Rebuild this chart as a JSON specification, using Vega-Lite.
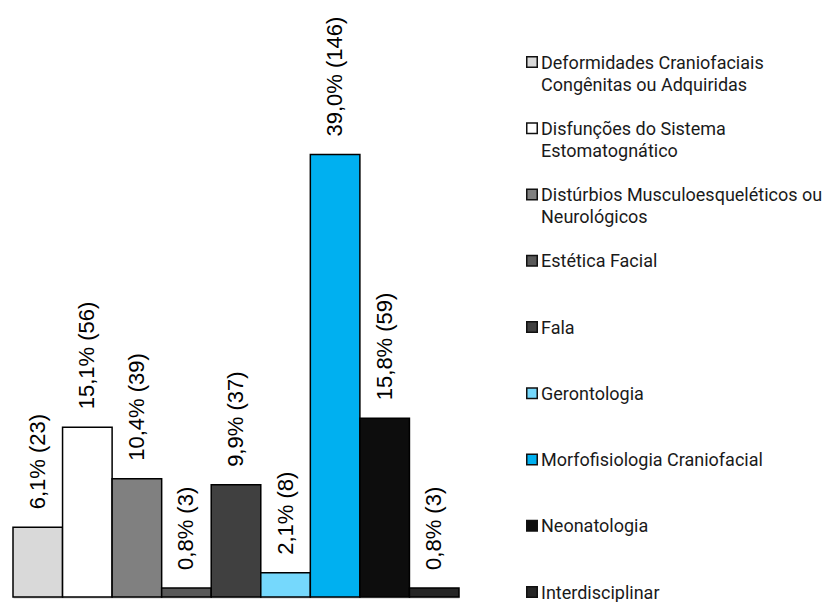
{
  "$schema": "https://vega.github.io/schema/vega-lite/v6.json",
  "padding": {"left": 12, "top": 0, "right": 0, "bottom": 0},
  "background": "white",
  "config": {"view": {"stroke": null}, "text": {"lineBreak": "\n"}},
  "datasets": {
    "areas": [
      {"area": "Deformidades Craniofaciais Congênitas ou Adquiridas", "legend": "Deformidades Craniofaciais\nCongênitas ou Adquiridas", "pct": 6.1, "n": 23},
      {"area": "Disfunções do Sistema Estomatognático", "legend": "Disfunções do Sistema\nEstomatognático", "pct": 15.1, "n": 56},
      {"area": "Distúrbios Musculoesqueléticos ou Neurológicos", "legend": "Distúrbios Musculoesqueléticos ou\nNeurológicos", "pct": 10.4, "n": 39},
      {"area": "Estética Facial", "legend": "Estética Facial", "pct": 0.8, "n": 3},
      {"area": "Fala", "legend": "Fala", "pct": 9.9, "n": 37},
      {"area": "Gerontologia", "legend": "Gerontologia", "pct": 2.1, "n": 8},
      {"area": "Morfofisiologia Craniofacial", "legend": "Morfofisiologia Craniofacial", "pct": 39.0, "n": 146},
      {"area": "Neonatologia", "legend": "Neonatologia", "pct": 15.8, "n": 59},
      {"area": "Interdisciplinar", "legend": "Interdisciplinar", "pct": 0.8, "n": 3}
    ]
  },
  "hconcat": [
    {
      "width": 446,
      "height": 597,
      "data": {"name": "areas"},
      "transform": [
        {"calculate": "replace(format(datum.pct, '.1f'), '.', ',') + '% (' + datum.n + ')'", "as": "rotulo"}
      ],
      "encoding": {
        "x": {
          "field": "area", "type": "nominal", "sort": null,
          "scale": {"paddingInner": 0, "paddingOuter": 0},
          "axis": {"labels": false, "ticks": false, "title": null, "domainColor": "#c8c8c8", "domainWidth": 2}
        },
        "y": {
          "field": "n", "type": "quantitative",
          "scale": {"domain": [0, 197], "nice": false},
          "axis": null
        }
      },
      "layer": [
        {
          "mark": {"type": "bar", "stroke": "#000000", "strokeWidth": 1.5},
          "encoding": {
            "color": {
              "field": "area", "type": "nominal", "legend": null,
              "scale": {
                "domain": [
                  "Deformidades Craniofaciais Congênitas ou Adquiridas",
                  "Disfunções do Sistema Estomatognático",
                  "Distúrbios Musculoesqueléticos ou Neurológicos",
                  "Estética Facial", "Fala", "Gerontologia",
                  "Morfofisiologia Craniofacial", "Neonatologia", "Interdisciplinar"
                ],
                "range": ["#d9d9d9", "#ffffff", "#808080", "#595959", "#404040", "#75d8fc", "#00b0f0", "#0d0d0d", "#262626"]
              }
            }
          }
        },
        {
          "mark": {"type": "text", "angle": 270, "align": "left", "baseline": "middle", "dx": 18, "font": "Arial", "fontSize": 22, "color": "#000000"},
          "encoding": {"text": {"field": "rotulo"}}
        }
      ]
    },
    {
      "width": 280,
      "height": 597,
      "data": {"name": "areas"},
      "encoding": {
        "y": {
          "field": "area", "type": "nominal", "sort": null,
          "scale": {"type": "point", "range": [62, 592], "padding": 0},
          "axis": null
        },
        "x": {"datum": 0, "type": "quantitative", "scale": {"domain": [0, 1]}, "axis": null}
      },
      "layer": [
        {
          "mark": {"type": "point", "shape": "square", "filled": true, "size": 110, "stroke": "#111111", "strokeWidth": 1.5, "opacity": 1},
          "encoding": {
            "fill": {
              "field": "area", "type": "nominal", "legend": null,
              "scale": {
                "domain": [
                  "Deformidades Craniofaciais Congênitas ou Adquiridas",
                  "Disfunções do Sistema Estomatognático",
                  "Distúrbios Musculoesqueléticos ou Neurológicos",
                  "Estética Facial", "Fala", "Gerontologia",
                  "Morfofisiologia Craniofacial", "Neonatologia", "Interdisciplinar"
                ],
                "range": ["#d9d9d9", "#ffffff", "#808080", "#595959", "#404040", "#75d8fc", "#00b0f0", "#0d0d0d", "#262626"]
              }
            }
          }
        },
        {
          "mark": {"type": "text", "align": "left", "baseline": "alphabetic", "dx": 9, "dy": 6.5, "lineHeight": 22, "font": "Roboto", "fontSize": 18, "color": "#1a1a1a"},
          "encoding": {"text": {"field": "legend"}}
        }
      ]
    }
  ],
  "spacing": 63,
  "resolve": {"scale": {"y": "independent", "x": "independent"}}
}
